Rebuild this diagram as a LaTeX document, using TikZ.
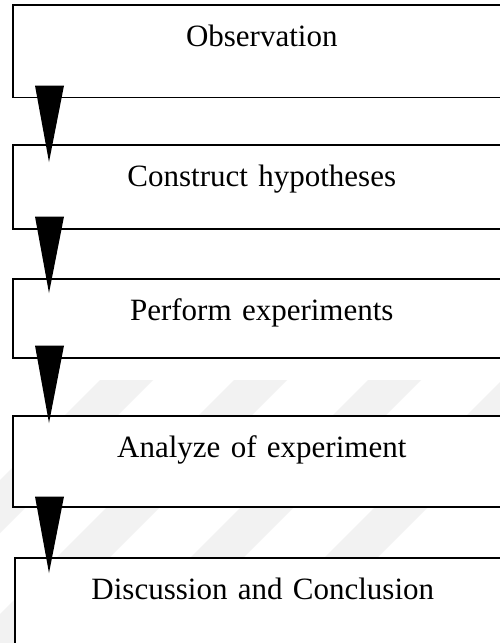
\documentclass[tikz,border=0pt]{standalone}
\usepackage{fontspec}
\setmainfont{Liberation Serif}
\usetikzlibrary{calc}
\tikzset{
  stagebox/.style={draw=black, line width=1.6pt, fill=white, rectangle,
    anchor=north west, inner xsep=0pt, inner ysep=0pt, align=center,
    text height=42pt, font=\fontsize{31}{37}\selectfont},
  flowtip/.style={fill=black},
  wmark/.style={fill=black!5}
}
\begin{document}
\begin{tikzpicture}[x=1pt, y=-1pt]
  \useasboundingbox (0,0) rectangle (500,643);
  \clip (0,0) rectangle (500,643);
  \fill[white] (0,0) rectangle (500,643);

  % faint slanted stripes in the background
  \foreach \k in {0,1,2,3} {
    \fill[wmark] ({100+134*\k},380) -- ({153+134*\k},380)
      -- ({153+134*\k-263},643) -- ({100+134*\k-263},643) -- cycle;
  }

  % the five stages, stacked top to bottom
  \node[stagebox, text width=498pt, text depth=50.5pt] (b1) at (12,4) {Observation};
  \node[stagebox, text width=498pt, text depth=42pt]   (b2) at (12,144) {Construct hypotheses};
  \node[stagebox, text width=498pt, text depth=37pt]   (b3) at (12,278) {Perform experiments};
  \node[stagebox, text width=498pt, text depth=49pt]   (b4) at (12,415) {Analyze of experiment};
  \node[stagebox, text width=496pt, text depth=90pt]   (b5) at (14,557) {Discussion and Conclusion};

  % wedge-shaped connectors between consecutive stages
  \coordinate (a1) at ($(b1.south west)+(37.5,-12.5)$);
  \coordinate (p1) at ($(b2.north west)+(37,18)$);
  \coordinate (a2) at ($(b2.south west)+(37.5,-13)$);
  \coordinate (p2) at ($(b3.north west)+(37,15)$);
  \coordinate (a3) at ($(b3.south west)+(37.5,-13)$);
  \coordinate (p3) at ($(b4.north west)+(37,8)$);
  \coordinate (a4) at ($(b4.south west)+(37.5,-11)$);
  \coordinate (p4) at ($(b5.north west)+(35,16)$);
  \foreach \i in {1,2,3,4} {
    \fill[flowtip] ($(a\i)+(-14.5,0)$) -- ($(a\i)+(14.5,0)$) -- (p\i) -- cycle;
  }
\end{tikzpicture}
\end{document}
